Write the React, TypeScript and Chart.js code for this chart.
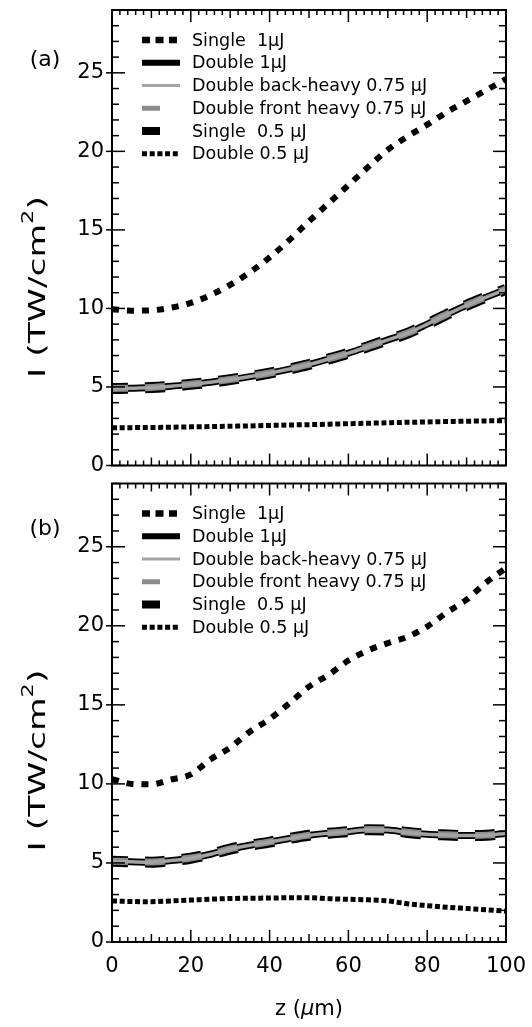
import React, { useEffect, useRef } from "react";
import { Chart, registerables } from "chart.js";

Chart.register(...registerables);

// ---------- data ----------
const zValues = [0, 5, 10, 15, 20, 25, 30, 35, 40, 45, 50, 55, 60, 65, 70, 75, 80, 85, 90, 95, 100];

const seriesLabels = [
  "Single  1μJ",
  "Double 1μJ",
  "Double back-heavy 0.75 μJ",
  "Double front heavy 0.75 μJ",
  "Single  0.5 μJ",
  "Double 0.5 μJ",
];

// panel (a)
const aSingle1 = [9.95, 9.86, 9.88, 10.05, 10.35, 10.85, 11.5, 12.3, 13.25, 14.35, 15.55, 16.7, 17.85, 19.0, 20.1, 20.95, 21.7, 22.5, 23.2, 23.9, 24.6];
const aDouble1 = [4.9, 4.92, 4.96, 5.05, 5.17, 5.3, 5.47, 5.66, 5.88, 6.14, 6.43, 6.78, 7.15, 7.57, 8.0, 8.42, 9.0, 9.62, 10.2, 10.72, 11.22];
const aBackHeavy = [4.9, 4.92, 4.96, 5.05, 5.17, 5.3, 5.47, 5.66, 5.88, 6.14, 6.43, 6.78, 7.15, 7.57, 8.0, 8.42, 9.0, 9.62, 10.2, 10.72, 11.22];
const aFrontHeavy = [4.91, 4.93, 4.97, 5.06, 5.18, 5.31, 5.48, 5.67, 5.89, 6.15, 6.44, 6.79, 7.16, 7.58, 8.01, 8.43, 9.01, 9.63, 10.21, 10.73, 11.23];
const aSingle05 = [4.9, 4.92, 4.96, 5.05, 5.17, 5.3, 5.47, 5.66, 5.88, 6.14, 6.43, 6.78, 7.15, 7.57, 8.0, 8.42, 9.0, 9.62, 10.2, 10.72, 11.22];
const aDouble05 = [2.4, 2.41, 2.42, 2.44, 2.46, 2.48, 2.5, 2.52, 2.55, 2.58, 2.6, 2.63, 2.66, 2.69, 2.72, 2.75, 2.77, 2.8, 2.82, 2.84, 2.85];

// panel (b)
const bSingle1 = [10.3, 10.0, 9.97, 10.28, 10.6, 11.55, 12.3, 13.3, 14.1, 15.1, 16.15, 16.9, 17.8, 18.45, 18.9, 19.3, 19.95, 20.85, 21.65, 22.75, 23.65];
const bDouble1 = [5.1, 5.07, 5.05, 5.15, 5.3, 5.55, 5.88, 6.12, 6.32, 6.55, 6.75, 6.88, 6.98, 7.1, 7.08, 6.93, 6.82, 6.77, 6.73, 6.75, 6.87];
const bBackHeavy = [5.1, 5.07, 5.05, 5.15, 5.3, 5.55, 5.88, 6.12, 6.32, 6.55, 6.75, 6.88, 6.98, 7.1, 7.08, 6.93, 6.82, 6.77, 6.73, 6.75, 6.87];
const bFrontHeavy = [5.11, 5.08, 5.06, 5.16, 5.31, 5.56, 5.89, 6.13, 6.33, 6.56, 6.76, 6.89, 6.99, 7.11, 7.09, 6.94, 6.83, 6.78, 6.74, 6.76, 6.88];
const bSingle05 = [5.1, 5.07, 5.05, 5.15, 5.3, 5.55, 5.88, 6.12, 6.32, 6.55, 6.75, 6.88, 6.98, 7.1, 7.08, 6.93, 6.82, 6.77, 6.73, 6.75, 6.87];
const bDouble05 = [2.6, 2.56, 2.55, 2.6, 2.65, 2.71, 2.75, 2.77, 2.78, 2.8, 2.8, 2.74, 2.7, 2.67, 2.6, 2.42, 2.3, 2.2, 2.12, 2.04, 1.96];

const panelSeries = {
  a: [aSingle1, aDouble1, aBackHeavy, aFrontHeavy, aSingle05, aDouble05],
  b: [bSingle1, bDouble1, bBackHeavy, bFrontHeavy, bSingle05, bDouble05],
};

const yMin = 0;
const yMax = 29;
const xMin = 0;
const xMax = 100;
const xTickStep = 20;
const yTickStep = 5;
const yTitleMain = "I (TW/cm";
const yTitleSup = "2";
const xTitle = ["z (", "μ", "m)"];

// ---------- styles ----------
const FONT = "'DejaVu Sans', sans-serif";
const GRAY_LIGHT = "#a3a3a3";
const GRAY = "#8c8c8c";

const lineStyles = [
  { color: "#000", width: 6, dash: [7, 8], order: 1 },
  { color: "#000", width: 7, dash: [] as number[], order: 4 },
  { color: GRAY_LIGHT, width: 3.5, dash: [] as number[], order: 2 },
  { color: GRAY, width: 7, dash: [20, 17], order: 3 },
  { color: "#000", width: 11, dash: [20, 17], order: 5 },
  { color: "#000", width: 5, dash: [5, 2.7], order: 1 },
];

const legendSamples = [
  { color: "#000", width: 6.5, dash: [8, 5.5], len: 38 },
  { color: "#000", width: 6, dash: [] as number[], len: 38 },
  { color: GRAY_LIGHT, width: 3, dash: [] as number[], len: 38 },
  { color: GRAY, width: 5, dash: [] as number[], len: 18 },
  { color: "#000", width: 8, dash: [] as number[], len: 18 },
  { color: "#000", width: 5, dash: [5, 2.7], len: 38 },
];

function line(ctx: CanvasRenderingContext2D, x1: number, y1: number, x2: number, y2: number) {
  ctx.beginPath();
  ctx.moveTo(x1, y1);
  ctx.lineTo(x2, y2);
  ctx.stroke();
}

function decorPlugin(panel: "a" | "b") {
  return {
    id: "decor_" + panel,
    afterDraw(chart: any) {
      const ctx: CanvasRenderingContext2D = chart.ctx;
      const { left, right, top, bottom } = chart.chartArea;
      const xs = chart.scales.x;
      const ys = chart.scales.y;
      ctx.save();
      ctx.strokeStyle = "#000";
      ctx.setLineDash([]);
      // minor / major ticks, pointing inward
      ctx.lineWidth = 1.5;
      for (let v = yMin; v <= yMax; v += 1) {
        const py = ys.getPixelForValue(v);
        const major = v % yTickStep === 0;
        const len = major ? 13 : 7;
        line(ctx, left - (major ? 6 : 0), py, left + len, py);
        line(ctx, right - len, py, right, py);
      }
      for (let v = xMin; v <= xMax; v += 2) {
        const px = xs.getPixelForValue(v);
        const len = v % 20 === 0 ? 12 : v % 10 === 0 ? 8 : 5;
        line(ctx, px, bottom, px, bottom - len);
        line(ctx, px, top, px, top + len);
      }
      // frame
      ctx.lineWidth = 2;
      ctx.strokeRect(left, top, right - left, bottom - top);

      // legend
      ctx.textBaseline = "middle";
      ctx.textAlign = "left";
      ctx.fillStyle = "#000";
      ctx.font = `17.5px ${FONT}`;
      const lx = 142;
      legendSamples.forEach((s, i) => {
        const ly = top + 30 + i * 22.75;
        ctx.strokeStyle = s.color;
        ctx.lineWidth = s.width;
        ctx.setLineDash(s.dash);
        ctx.lineCap = "butt";
        line(ctx, lx, ly, lx + s.len, ly);
        ctx.setLineDash([]);
        ctx.fillText(chart.data.datasets[i].label, 192, ly + 1);
      });

      // panel label
      ctx.font = `22px ${FONT}`;
      ctx.textAlign = "center";
      ctx.fillText(panel === "a" ? "(a)" : "(b)", 45, top + (panel === "a" ? 50 : 46));

      // y title (stretched along its direction, as in the reference)
      ctx.save();
      ctx.translate(37, top + 277);
      ctx.rotate(-Math.PI / 2);
      ctx.scale(1.5, 1);
      const mainFont = `23px ${FONT}`;
      const supFont = `15px ${FONT}`;
      ctx.font = mainFont;
      const w1 = ctx.measureText(yTitleMain).width;
      const w3 = ctx.measureText(")").width;
      ctx.font = supFont;
      const w2 = ctx.measureText(yTitleSup).width;
      const total = w1 + w2 + w3;
      let cx = -total / 2;
      ctx.textAlign = "left";
      ctx.textBaseline = "alphabetic";
      ctx.font = mainFont;
      ctx.fillText(yTitleMain, cx, 8);
      cx += w1;
      ctx.font = supFont;
      ctx.fillText(yTitleSup, cx, -4);
      cx += w2;
      ctx.font = mainFont;
      ctx.fillText(")", cx, 8);
      ctx.restore();

      // x title (bottom panel)
      if (panel === "b") {
        const f1 = `21px ${FONT}`;
        const f2 = `italic 21px ${FONT}`;
        ctx.font = f1;
        const a1 = ctx.measureText(xTitle[0]).width;
        const a3 = ctx.measureText(xTitle[2]).width;
        ctx.font = f2;
        const a2 = ctx.measureText(xTitle[1]).width;
        const tot = a1 + a2 + a3;
        let tx = (left + right) / 2 - tot / 2;
        const ty = 535;
        ctx.textAlign = "left";
        ctx.textBaseline = "middle";
        ctx.font = f1;
        ctx.fillText(xTitle[0], tx, ty);
        tx += a1;
        ctx.font = f2;
        ctx.fillText(xTitle[1], tx, ty);
        tx += a2;
        ctx.font = f1;
        ctx.fillText(xTitle[2], tx, ty);
      }
      ctx.restore();
    },
  };
}

function buildConfig(panel: "a" | "b"): any {
  const series = panelSeries[panel];
  const datasets = series.map((vals, i) => ({
    label: seriesLabels[i],
    data: zValues.map((z, k) => ({ x: z, y: vals[k] })),
    borderColor: lineStyles[i].color,
    borderWidth: lineStyles[i].width,
    borderDash: lineStyles[i].dash,
    borderDashOffset: i === 3 || i === 4 ? 4 : 0,
    order: lineStyles[i].order,
    pointRadius: 0,
    fill: false,
    cubicInterpolationMode: "monotone",
  }));
  const tickFont = { family: FONT, size: 21 };
  const xScale: any =
    panel === "a"
      ? { type: "linear", min: xMin, max: xMax, display: false }
      : {
          type: "linear",
          min: xMin,
          max: xMax,
          ticks: { stepSize: xTickStep, font: tickFont, color: "#000", padding: 12, maxRotation: 0, autoSkip: false },
          grid: { display: false, drawTicks: false },
          border: { display: false },
          afterFit: (s: any) => {
            s.height = 85;
            s.paddingLeft = 0;
            s.paddingRight = 0;
          },
        };
  return {
    type: "line",
    data: { datasets },
    options: {
      animation: false,
      responsive: false,
      devicePixelRatio: 1,
      layout: {
        padding: panel === "a" ? { top: 10, right: 26, bottom: 9.5, left: 0 } : { top: 8.5, right: 26, bottom: 0, left: 0 },
      },
      plugins: { legend: { display: false }, tooltip: { enabled: false } },
      scales: {
        x: xScale,
        y: {
          type: "linear",
          min: yMin,
          max: yMax,
          ticks: { stepSize: yTickStep, font: tickFont, color: "#000", padding: 8 },
          grid: { display: false, drawTicks: false },
          border: { display: false },
          afterBuildTicks: (s: any) => {
            s.ticks = s.ticks.filter((t: any) => t.value % yTickStep === 0);
          },
          afterFit: (s: any) => {
            s.width = 112;
            s.paddingTop = 0;
            s.paddingBottom = 0;
          },
        },
      },
    },
    plugins: [decorPlugin(panel)],
  };
}

function Panel({ panel, top, height }: { panel: "a" | "b"; top: number; height: number }) {
  const ref = useRef<HTMLCanvasElement | null>(null);
  useEffect(() => {
    if (!ref.current) return;
    const chart = new Chart(ref.current, buildConfig(panel));
    return () => chart.destroy();
  }, [panel]);
  return (
    <canvas
      ref={ref}
      width={532}
      height={height}
      style={{ position: "absolute", left: 0, top, width: 532, height, display: "block" }}
    />
  );
}

export default function App() {
  return (
    <div style={{ position: "absolute", left: 0, top: 0, width: 532, height: 1027, background: "#fff" }}>
      <Panel panel="a" top={0} height={475} />
      <Panel panel="b" top={475} height={552} />
    </div>
  );
}
